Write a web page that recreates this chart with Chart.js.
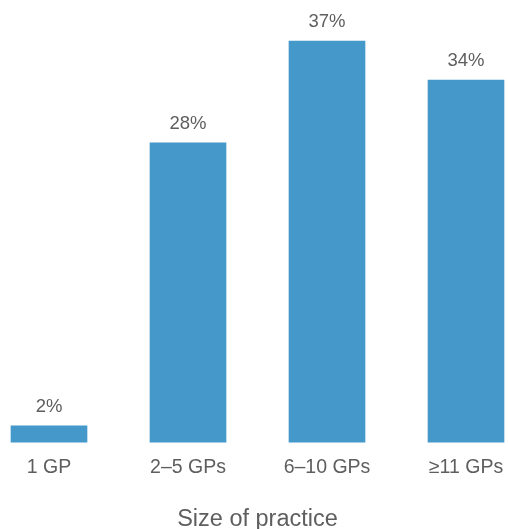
<!DOCTYPE html>
<html>
<head>
<meta charset="utf-8">
<script src="https://cdn.jsdelivr.net/npm/chart.js@4/dist/chart.umd.min.js"></script>
<style>
  html, body { margin: 0; padding: 0; background: #fff; }
  #wrap { width: 508px; height: 529px; }
</style>
</head>
<body>
<div id="wrap"><canvas id="practiceChart"></canvas></div>
<script>
// values (labels show the rounded figures)
const categories = ['1 GP', '2\u20135 GPs', '6\u201310 GPs', '\u226511 GPs'];
const shares = [1.5, 27.6, 37, 33.4];
const shareLabels = ['2%', '28%', '37%', '34%'];
const axisTitle = 'Size of practice';

const fontFamily = '"Liberation Sans", Arial, Helvetica, sans-serif';
const textColor = '#5e5e5e';

// draws the percentage above each bar
const valueLabels = {
    id: 'valueLabels',
    afterDatasetsDraw(chart) {
        const ctx = chart.ctx;
        const meta = chart.getDatasetMeta(0);
        ctx.save();
        ctx.font = '18.5px ' + fontFamily;
        ctx.fillStyle = textColor;
        ctx.textAlign = 'center';
        ctx.textBaseline = 'middle';
        meta.data.forEach((bar, i) => {
            ctx.fillText(shareLabels[i], bar.x, bar.y - 19);
        });
        ctx.restore();
    }
};

const ctx = document.getElementById('practiceChart').getContext('2d');
new Chart(ctx, {
    type: 'bar',
    data: {
        labels: categories,
        datasets: [{
            data: shares,
            backgroundColor: '#4598ca',
            barThickness: 76,
            clip: false
        }]
    },
    options: {
        responsive: true,
        maintainAspectRatio: false,
        animation: false,
        layout: {
            padding: { left: 49, right: 42, top: 41, bottom: -2 }
        },
        plugins: {
            legend: { display: false },
            tooltip: { enabled: false }
        },
        scales: {
            x: {
                offset: false,
                grid: { display: false, drawTicks: true, tickLength: 11 },
                border: { display: false },
                ticks: {
                    padding: 3,
                    color: textColor,
                    font: { family: fontFamily, size: 19.5 },
                    maxRotation: 0,
                    autoSkip: false
                },
                title: {
                    display: true,
                    text: axisTitle,
                    color: textColor,
                    font: { family: fontFamily, size: 23.5, lineHeight: 1 },
                    padding: { top: 25, bottom: 0 }
                }
            },
            y: {
                display: false,
                min: 0,
                max: 37
            }
        }
    },
    plugins: [valueLabels]
});
</script>
</body>
</html>
